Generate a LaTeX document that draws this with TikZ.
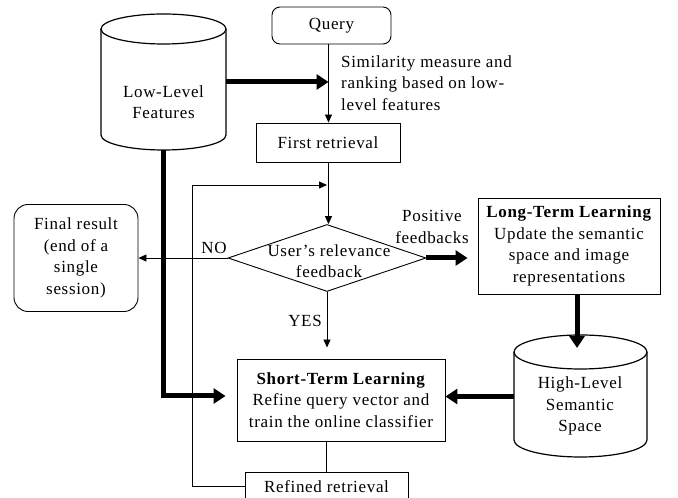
\documentclass[tikz,border=0pt]{standalone}
\usepackage{fontspec}
\setmainfont{Liberation Serif}[LetterSpace=4]
\usetikzlibrary{arrows.meta,shapes.geometric}

\tikzset{
  lbl/.style={font=\fontsize{17}{21.5}\selectfont, align=center, inner sep=0pt},
  box/.style={lbl, draw, line width=0.9pt},
  rbox/.style={box, rounded corners=#1},
  thinline/.style={line width=0.9pt},
  thinarrow/.style={thinline, -{Triangle[length=8pt,width=7pt]}},
  fatline/.style={line width=5pt},
  fatarrow/.style={fatline, -{Triangle[length=12pt,width=15pt]}},
  cylline/.style={line width=1.2pt},
}

\begin{document}
\begin{tikzpicture}[x=1pt,y=1pt]
\useasboundingbox (0,0) rectangle (678,498);

% --- top part: query, low-level features, first retrieval
\node[rbox=8pt, minimum width=119pt, minimum height=37pt] (query) at (331.5,472.5) {Query};

\node[lbl, minimum width=125pt, minimum height=136pt] (llf) at (163.5,416) {};
\draw[cylline] (101,469) -- (101,363)
  arc[start angle=180, end angle=360, x radius=62.5, y radius=15] -- (226,469);
\draw[cylline] (163.5,469) ellipse[x radius=62.5, y radius=15];
\node[lbl] at (163.5,396) {Low-Level\\Features};

\node[box, minimum width=144pt, minimum height=39pt] (first) at (328,355.5) {First retrieval};

\node[lbl, anchor=west, align=left] (sim) at (341,415)
  {Similarity measure and\\ranking based on low-\\level features};

\coordinate (qmeet) at (328.5,416);
\draw[thinarrow] (query.south -| qmeet) -- (first.north -| qmeet);
\draw[fatarrow] (llf.east) -- (qmeet);

% --- relevance feedback decision
\node[draw, thinline, diamond, inner sep=0pt, minimum width=198pt, minimum height=67pt] (fb) at (327,240) {};
\node[lbl] at (329,237) {User's relevance\\feedback};

\draw[thinarrow] (first.south -| qmeet) -- (fb.north -| qmeet);

\node[rbox=14pt, minimum width=124pt, minimum height=107pt] (final) at (76,240)
  {Final result\\(end of a\\single\\session)};
\draw[thinarrow] (fb.west) -- (final.east);
\node[lbl] at (214,250) {NO};

% --- long-term learning branch
\node[box, minimum width=182pt, minimum height=96pt] (ltl) at (569,252)
  {\textbf{Long-Term Learning}\\Update the semantic\\space and image\\representations};
\draw[fatarrow, shorten >=10pt] (fb.east) -- (fb.east -| ltl.west);
\node[lbl] at (432,271) {Positive\\feedbacks};

\node[lbl, minimum width=133pt, minimum height=123pt] (hl) at (580.5,101.5) {};
\draw[cylline] (514,146) -- (514,58)
  arc[start angle=180, end angle=360, x radius=66.5, y radius=17] -- (647,146);
\draw[cylline] (580.5,146) ellipse[x radius=66.5, y radius=17];
\node[lbl] at (580,92) {High-Level\\Semantic\\Space};

\coordinate (hltop) at (577,150);
\draw[fatarrow] (ltl.south -| hltop) -- (hltop);

% --- short-term learning and refined retrieval
\node[box, minimum width=208pt, minimum height=82pt] (st) at (341,98)
  {\textbf{Short-Term Learning}\\Refine query vector and\\train the online classifier};

\draw[thinarrow, shorten >=11pt] (fb.south) -- (fb.south |- st.north);
\node[lbl] at (305,177) {YES};

\draw[fatarrow] (hl.west) -- (hl.west -| st.east);
\draw[fatarrow, shorten >=11pt] (llf.south) |- ([yshift=4pt]st.west);

\node[box, minimum width=163pt, minimum height=38pt] (refined) at (326.5,7) {};
\node[lbl] (refinedtext) at (326.5,11) {Refined retrieval};
\draw[thinline] (refined.north |- st.south) -- (refined.north);

\coordinate (loopcorner) at (192,313);
\coordinate (loopend) at (327,313);
\draw[thinline] ([yshift=5pt]refined.west) -| (loopcorner);
\draw[thinarrow] (loopcorner) -- (loopend);
\end{tikzpicture}
\end{document}
